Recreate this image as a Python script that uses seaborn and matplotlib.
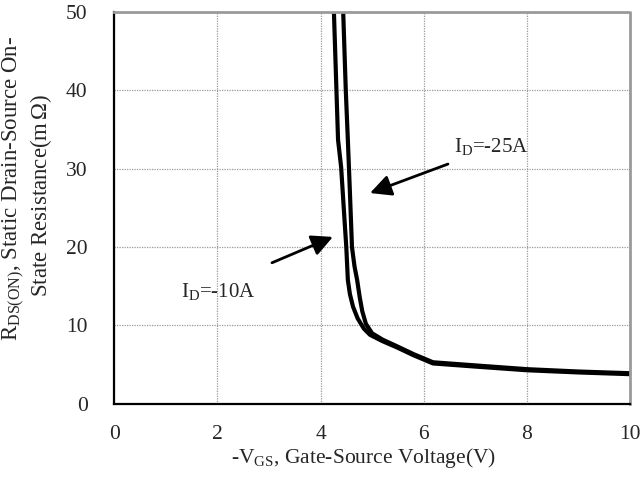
import numpy as np
import pandas as pd
import matplotlib
matplotlib.use("Agg")
import matplotlib.pyplot as plt
import seaborn as sns

# Data
vgs_10a = [4.26, 4.34, 4.40, 4.47, 4.50, 4.53, 4.57, 4.63, 4.72, 4.84, 4.96, 5.20, 5.48, 5.80, 6.18, 7.0, 8.0, 9.0, 10.0]
rds_10a = [50.0, 33.7, 30.2, 23.0, 20.0, 15.8, 14.0, 12.4, 10.9, 9.6, 8.8, 8.0, 7.2, 6.2, 5.15, 4.75, 4.28, 4.0, 3.78]
vgs_25a = [4.44, 4.49, 4.53, 4.57, 4.61, 4.66, 4.71, 4.76, 4.81, 4.88, 5.00, 5.20, 5.48, 5.80, 6.18, 7.0, 8.0, 9.0, 10.0]
rds_25a = [50.0, 40.0, 33.7, 27.0, 20.0, 17.5, 15.8, 13.6, 11.8, 10.2, 9.0, 8.2, 7.35, 6.35, 5.3, 4.9, 4.42, 4.12, 3.9]
series_names = ["ID=-10A", "ID=-25A"]
x_ticks = [0, 2, 4, 6, 8, 10]
y_ticks = [0, 10, 20, 30, 40, 50]
ylabel_lines = ["R$_{\\mathregular{DS(ON)}}$, Static Drain-Source On-",
                "State Resistance(m$\\,\\Omega$)"]

df = pd.concat([
    pd.DataFrame({"vgs": vgs_10a, "rds": rds_10a, "series": series_names[0]}),
    pd.DataFrame({"vgs": vgs_25a, "rds": rds_25a, "series": series_names[1]}),
])

sns.set_theme(style="white")
plt.rcParams["font.family"] = ["Liberation Serif", "DejaVu Serif"]
plt.rcParams["mathtext.fontset"] = "custom"
plt.rcParams["mathtext.rm"] = "Liberation Serif"
plt.rcParams["mathtext.it"] = "Liberation Serif"

fig = plt.figure(figsize=(6.41, 4.83), dpi=100)
ax = fig.add_axes([0.178, 0.164, 0.805, 0.811])

sns.lineplot(data=df, x="vgs", y="rds", hue="series", units="series", estimator=None,
             sort=False, palette=["black", "black"], linewidth=3.0, legend=False, ax=ax)

ax.set_xlim(0, 10)
ax.set_ylim(0, 50)
ax.set_xticks(x_ticks)
ax.set_yticks(y_ticks)
ax.set_xticklabels([str(t) for t in x_ticks], fontsize=15.5)
ax.set_yticklabels([str(t) for t in y_ticks], fontsize=15.5)
ax.tick_params(axis="both", direction="in", length=5, width=1.2, color="black")
ax.tick_params(axis="y", pad=19)
ax.tick_params(axis="x", pad=15)

ax.grid(True, color="#9a9a9a", linestyle=(0, (1, 1)), linewidth=0.9)
ax.set_axisbelow(True)
for s in ["left", "bottom"]:
    ax.spines[s].set_color("black")
    ax.spines[s].set_linewidth(1.6)
for s in ["top", "right"]:
    ax.spines[s].set_color("#9a9a9a")
    ax.spines[s].set_linestyle((0, (1, 1)))
    ax.spines[s].set_linewidth(2.0)

ax.set_xlabel(r"-V$_{\mathregular{GS}}$, Gate-Source Voltage(V)", fontsize=15.5, labelpad=0)
ax.xaxis.set_label_coords(0.483, -0.108)
ax.set_ylabel("")
fig.text(14 / 641, 1 - 188 / 483, ylabel_lines[0], rotation=90, ha="center", va="center", fontsize=16.5)
fig.text(41 / 641, 1 - 195 / 483, ylabel_lines[1], rotation=90, ha="center", va="center", fontsize=16.5)

arrowprops = dict(arrowstyle="-|>", color="black", lw=2.0, mutation_scale=32, shrinkA=0, shrinkB=0)
ax.annotate("", xy=(4.96, 26.9), xytext=(6.47, 30.6), arrowprops=arrowprops)
ax.annotate("", xy=(4.24, 21.3), xytext=(3.06, 18.0), arrowprops=arrowprops)
ax.text(6.58, 32.9, r"I$_{\mathregular{D}}$=-25A", fontsize=15, ha="left", va="center")
ax.text(1.30, 14.3, r"I$_{\mathregular{D}}$=-10A", fontsize=15, ha="left", va="center")

fig.savefig("out.png", dpi=100)
